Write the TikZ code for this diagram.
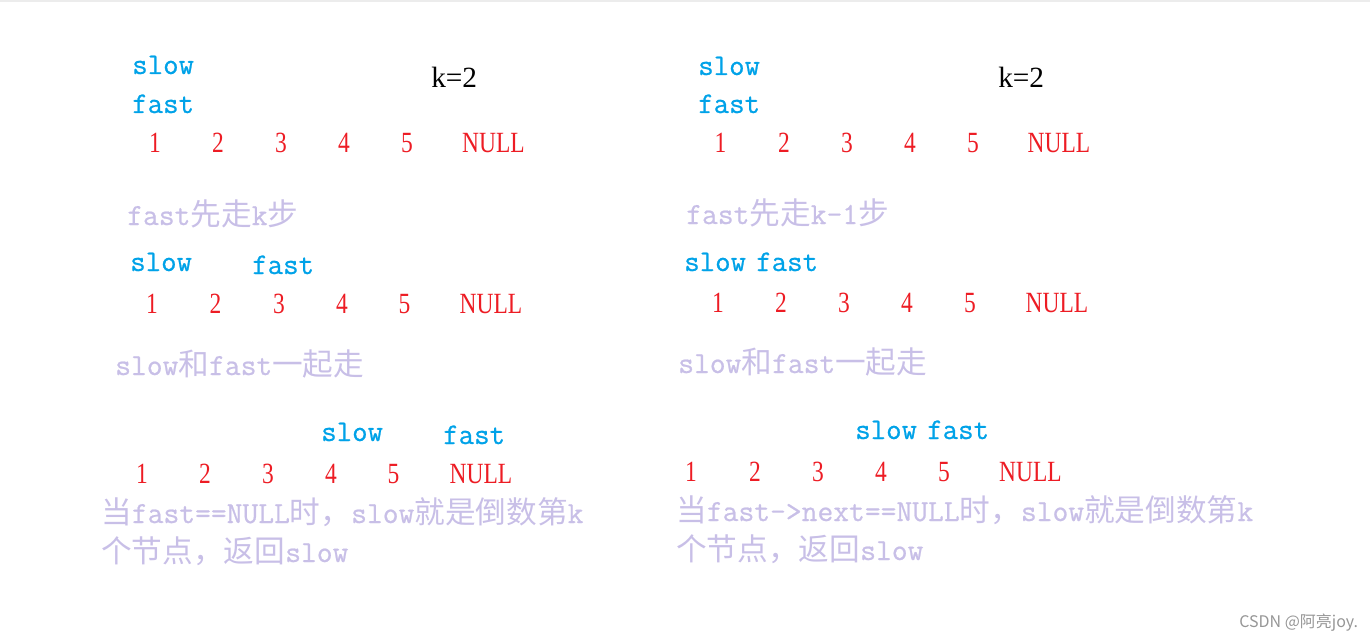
\documentclass[tikz,border=0pt]{standalone}
\usepackage{fontspec}
\setmainfont{Liberation Serif}
\setmonofont[FakeBold=0.7]{Latin Modern Mono}
\newfontfamily\cjk{Noto Sans CJK SC}
\newfontfamily\numfont[FakeStretch=0.8]{Liberation Serif}
\definecolor{ptrBlue}{RGB}{0,162,232}
\definecolor{numRed}{RGB}{237,28,36}
\definecolor{noteLav}{RGB}{200,191,231}
\definecolor{markGray}{RGB}{150,150,150}
\definecolor{edgeGray}{RGB}{236,236,236}
\tikzset{
  num/.style={anchor=base, inner sep=0, text=numRed, font=\fontsize{22}{26}\selectfont\numfont},
  ptr/.style={anchor=base west, inner sep=0, text=ptrBlue, font=\fontsize{22.5}{26}\selectfont\ttfamily},
  note/.style={anchor=base west, inner sep=0, text=noteLav, font=\fontsize{23}{26}\selectfont},
  kval/.style={anchor=base west, inner sep=0, font=\fontsize{22}{26}\selectfont}
}
\begin{document}
\begin{tikzpicture}[x=0.75pt, y=-0.75pt]
      \useasboundingbox (0,0) rectangle (1370,638);
      \fill [edgeGray] (0,0) rectangle (1370,2.5);

      % left: start
      \node (S1) [ptr]  at (132,74)  {slow};
      \node (F1) [ptr]  at (132,113) {fast};
      \node (K1) [kval] at (431,88)  {k=2};
      \node (A1) [num] at (155,152)   {1};
      \node (A2) [num] at (218,152)   {2};
      \node (A3) [num] at (281,152)   {3};
      \node (A4) [num] at (344,152)   {4};
      \node (A5) [num] at (407,152)   {5};
      \node (A6) [num] at (493.5,152) {NULL};

      % left: fast goes k steps
      \node (N1) [note] at (127,225) {\ttfamily fast\cjk 先走\ttfamily k\cjk 步};
      \node (S2) [ptr]  at (130,271) {slow};
      \node (F2) [ptr]  at (252,274) {fast};
      \node (B1) [num] at (152,313)   {1};
      \node (B2) [num] at (215.5,313) {2};
      \node (B3) [num] at (279,313)   {3};
      \node (B4) [num] at (342,313)   {4};
      \node (B5) [num] at (404.5,313) {5};
      \node (B6) [num] at (491,313)   {NULL};

      % left: both go together
      \node (N2) [note] at (115,375) {\ttfamily slow\cjk 和\ttfamily fast\cjk 一起走};
      \node (S3) [ptr]  at (321,441) {slow};
      \node (F3) [ptr]  at (443,444) {fast};
      \node (C1) [num] at (142,483)   {1};
      \node (C2) [num] at (205,483)   {2};
      \node (C3) [num] at (268,483)   {3};
      \node (C4) [num] at (331,483)   {4};
      \node (C5) [num] at (393.5,483) {5};
      \node (C6) [num] at (481,483)   {NULL};
      \node (N3) [note] at (101,523) {\cjk 当\ttfamily fast==NULL\cjk 时，\ttfamily slow\cjk 就是倒数第\ttfamily k};
      \node (N4) [note] at (101,562) {\cjk 个节点，返回\ttfamily slow};

      % right: start
      \node (S4) [ptr]  at (698,75)  {slow};
      \node (F4) [ptr]  at (698,113) {fast};
      \node (K2) [kval] at (998,88)  {k=2};
      \node (D1) [num] at (720.5,153) {1};
      \node (D2) [num] at (784,153)   {2};
      \node (D3) [num] at (847,153)   {3};
      \node (D4) [num] at (910,153)   {4};
      \node (D5) [num] at (973,153)   {5};
      \node (D6) [num] at (1059,153)  {NULL};

      % right: fast goes k-1 steps
      \node (N5) [note] at (686,224) {\ttfamily fast\cjk 先走\ttfamily k-1\cjk 步};
      \node (S5) [ptr]  at (684,271) {slow};
      \node (F5) [ptr]  at (756,271) {fast};
      \node (E1) [num] at (718,312)   {1};
      \node (E2) [num] at (781,312)   {2};
      \node (E3) [num] at (844,312)   {3};
      \node (E4) [num] at (907,312)   {4};
      \node (E5) [num] at (970,312)   {5};
      \node (E6) [num] at (1057,312)  {NULL};

      % right: both go together
      \node (N6) [note] at (678,373) {\ttfamily slow\cjk 和\ttfamily fast\cjk 一起走};
      \node (S6) [ptr]  at (855,439) {slow};
      \node (F6) [ptr]  at (927,439) {fast};
      \node (G1) [num] at (691,481)   {1};
      \node (G2) [num] at (755,481)   {2};
      \node (G3) [num] at (818,481)   {3};
      \node (G4) [num] at (881,481)   {4};
      \node (G5) [num] at (944,481)   {5};
      \node (G6) [num] at (1030.5,481) {NULL};
      \node (N7) [note] at (676,521) {\cjk 当\ttfamily fast->next==NULL\cjk 时，\ttfamily slow\cjk 就是倒数第\ttfamily k};
      \node (N8) [note] at (676,560) {\cjk 个节点，返回\ttfamily slow};

      \node (W) [anchor=base west, inner sep=0, text=markGray, font=\cjk\fontsize{12}{14}\selectfont] at (1239,627) {CSDN @阿亮joy.};
\end{tikzpicture}
\end{document}
